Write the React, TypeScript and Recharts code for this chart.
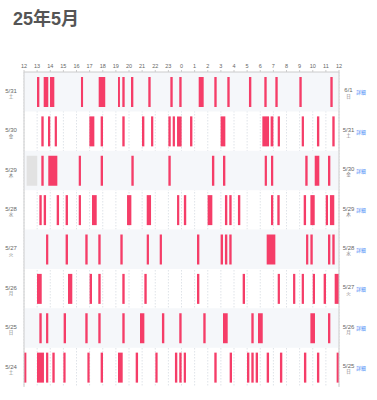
import React from "react";
import {
  BarChart,
  Bar,
  XAxis,
  YAxis,
  CartesianGrid,
  ReferenceArea,
  Cell,
} from "recharts";

const dates = ["5/31", "5/30", "5/29", "5/28", "5/27", "5/26", "5/25", "5/24"];
const weekdays = ["土", "金", "木", "水", "火", "月", "日", "土"];
const nextDates = ["6/1", "5/31", "5/30", "5/29", "5/28", "5/27", "5/26", "5/25"];
const nextWeekdays = ["日", "土", "金", "木", "水", "火", "月", "日"];
const hourLabels = [12, 13, 14, 15, 16, 17, 18, 19, 20, 21, 22, 23, 0, 1, 2, 3, 4, 5, 6, 7, 8, 9, 10, 11, 12];

// [start, end] in hours counted from 12:00 of the row's date
const events: number[][][] = [
  [[0.99, 1.17], [1.5, 1.85], [1.98, 2.31], [4.34, 4.5], [5.69, 6.19], [7.16, 7.31], [7.49, 7.67], [8.15, 8.33], [9.47, 9.65], [11.15, 11.33], [11.83, 12.01], [13.31, 13.69], [14.5, 14.68], [15.49, 15.67], [17.14, 17.32], [18.31, 18.49], [19.15, 19.33], [20.98, 21.16], [23.34, 23.52]],
  [[1.32, 1.5], [1.83, 2.0], [2.34, 2.51], [4.98, 5.36], [5.84, 6.02], [7.49, 7.67], [8.99, 9.17], [9.68, 9.85], [11.0, 11.18], [11.33, 11.5], [11.66, 12.01], [12.65, 12.83], [14.98, 15.34], [18.16, 18.67], [18.79, 19.0], [19.33, 19.5], [21.16, 21.33], [22.32, 22.5], [23.49, 23.67]],
  [[1.32, 1.5], [1.85, 2.54], [4.17, 4.34], [5.84, 6.02], [8.18, 8.36], [11.0, 11.18], [14.32, 14.5], [15.16, 15.34], [18.34, 18.51], [18.82, 18.99], [21.43, 21.61], [22.15, 22.5], [23.16, 23.34]],
  [[1.17, 1.35], [1.5, 1.68], [2.49, 2.67], [3.17, 3.35], [4.17, 4.34], [5.18, 5.54], [7.85, 8.18], [9.35, 9.68], [11.66, 11.83], [12.18, 12.36], [13.99, 14.35], [15.31, 15.49], [15.64, 15.82], [16.3, 16.48], [18.82, 18.99], [19.3, 19.48], [21.31, 21.49], [21.82, 22.15], [22.99, 23.16], [23.31, 23.64]],
  [[1.68, 1.85], [3.17, 3.35], [4.67, 4.85], [5.66, 5.84], [7.34, 7.52], [9.35, 9.52], [10.34, 10.51], [13.18, 13.36], [14.98, 15.16], [15.31, 15.49], [15.64, 15.82], [18.49, 19.15], [21.49, 21.66], [21.82, 22.0], [23.16, 23.34], [23.49, 23.67]],
  [[0.99, 1.35], [3.35, 3.68], [5.0, 5.18], [5.66, 5.84], [7.49, 7.67], [9.17, 9.35], [13.18, 13.36], [16.66, 16.84], [19.33, 19.5], [20.5, 20.67], [21.16, 21.33], [22.0, 22.17], [22.83, 23.01], [23.67, 24.0]],
  [[1.17, 1.35], [1.68, 1.85], [3.02, 3.2], [4.67, 4.85], [5.66, 5.84], [7.49, 7.67], [8.84, 9.17], [10.51, 10.69], [11.83, 12.01], [13.66, 13.84], [15.16, 15.52], [17.32, 17.5], [17.83, 18.19], [21.82, 22.17], [23.16, 23.34]],
  [[0.0, 0.18], [0.99, 1.52], [1.68, 1.85], [2.16, 2.34], [3.0, 3.17], [4.83, 5.0], [5.84, 6.02], [7.16, 7.52], [8.51, 8.69], [10.01, 10.18], [11.5, 11.68], [11.83, 12.01], [12.17, 12.34], [14.5, 14.68], [15.67, 15.85], [16.99, 17.17], [17.32, 17.5], [17.65, 17.83], [18.49, 18.67], [19.5, 19.68], [21.33, 21.51], [22.32, 22.5], [23.82, 24.0]],
];

// spans with no record (grey)
const noData: number[][][] = [[], [], [[0.2, 1.01]], [], [], [], [], []];

const RED = "#f53d68";
const GREY = "#e2e2e2";

// gap / bar pairs for a stacked gantt
const rows = dates.map((date, i) => {
  const items = [
    ...events[i].map(([s, e]) => ({ s, e, kind: "event" })),
    ...noData[i].map(([s, e]) => ({ s, e, kind: "none" })),
  ].sort((a, b) => a.s - b.s);
  const row: any = { date, next: nextDates[i], kinds: [] as string[] };
  let prev = 0;
  items.forEach((it, k) => {
    row[`g${k}`] = +(it.s - prev).toFixed(3);
    row[`b${k}`] = +(it.e - it.s).toFixed(3);
    row.kinds.push(it.kind);
    prev = it.e;
  });
  return row;
});
const maxItems = Math.max(...rows.map((r) => r.kinds.length));
rows.forEach((r) => {
  for (let k = r.kinds.length; k < maxItems; k++) {
    r[`g${k}`] = 0;
    r[`b${k}`] = 0;
  }
});

const hourTicks = hourLabels.map((_, i) => i);

const LeftTick = (props: any) => {
  const { x, y, payload } = props;
  const i = dates.indexOf(payload.value);
  return (
    <g>
      <text x={x - 13} y={y + 1.3} textAnchor="middle" fontSize={6} fill="#666">
        {payload.value}
      </text>
      <text x={x - 13} y={y + 6.5} textAnchor="middle" fontSize={4.5} fill="#777">
        {weekdays[i]}
      </text>
    </g>
  );
};

const RightTick = (props: any) => {
  const { x, y, payload } = props;
  const i = nextDates.indexOf(payload.value);
  return (
    <g>
      <text x={x + 9.5} y={y + 0.8} textAnchor="middle" fontSize={6} fill="#666">
        {payload.value}
      </text>
      <text x={x + 9.5} y={y + 6} textAnchor="middle" fontSize={4.5} fill="#777">
        {nextWeekdays[i]}
      </text>
      <text x={x + 22} y={y + 2.5} textAnchor="middle" fontSize={4.8} fill="#3b82f6">
        詳細
      </text>
    </g>
  );
};

export default function App() {
  return (
    <div
      style={{
        position: "absolute",
        left: 0,
        top: 0,
        width: 377,
        height: 400,
        background: "#fff",
        fontFamily: "'Liberation Sans', 'Noto Sans CJK JP', sans-serif",
      }}
    >
      <BarChart
        width={377}
        height={400}
        data={rows}
        layout="vertical"
        margin={{ top: 60, right: 0, bottom: 13, left: 0 }}
        barSize={30}
      >
        {dates
          .filter((_, i) => i % 2 === 0)
          .map((d) => (
            <ReferenceArea
              key={d}
              yAxisId="left"
              y1={d}
              y2={d}
              x1={0}
              x2={24}
              fill="#f5f7fa"
              fillOpacity={1}
              stroke="none"
            />
          ))}
        <CartesianGrid
          yAxisId="left"
          vertical
          horizontal={false}
          stroke="#dfe3e8"
          strokeDasharray="1.5 1.5"
        />
        <XAxis
          type="number"
          orientation="top"
          domain={[0, 24]}
          ticks={hourTicks}
          interval={0}
          height={12}
          tickSize={2}
          tickMargin={2}
          tickFormatter={(v: number) => String(hourLabels[v])}
          tick={{ fontSize: 5.5, fill: "#666" }}
          stroke="#ccc"
          allowDataOverflow
        />
        <YAxis
          yAxisId="left"
          type="category"
          dataKey="date"
          width={24}
          tickSize={0}
          tickMargin={0}
          tickLine={false}
          interval={0}
          stroke="#ccc"
          tick={<LeftTick />}
        />
        <YAxis
          yAxisId="right"
          orientation="right"
          type="category"
          dataKey="next"
          width={38}
          tickSize={0}
          tickMargin={0}
          tickLine={false}
          interval={0}
          stroke="#ccc"
          tick={<RightTick />}
        />
        {Array.from({ length: maxItems }).flatMap((_, k) => [
          <Bar
            key={`g${k}`}
            dataKey={`g${k}`}
            stackId="t"
            yAxisId="left"
            fill="none"
            isAnimationActive={false}
          />,
          <Bar
            key={`b${k}`}
            dataKey={`b${k}`}
            stackId="t"
            yAxisId="left"
            fill={RED}
            isAnimationActive={false}
          >
            {rows.map((r, i) => (
              <Cell key={i} fill={r.kinds[k] === "none" ? GREY : RED} />
            ))}
          </Bar>,
        ])}
      </BarChart>
      <div
        style={{
          position: "absolute",
          left: 13,
          top: 10,
          fontSize: 18,
          lineHeight: "18px",
          fontWeight: "bold",
          color: "#555",
        }}
      >
        25年5月
      </div>
    </div>
  );
}
